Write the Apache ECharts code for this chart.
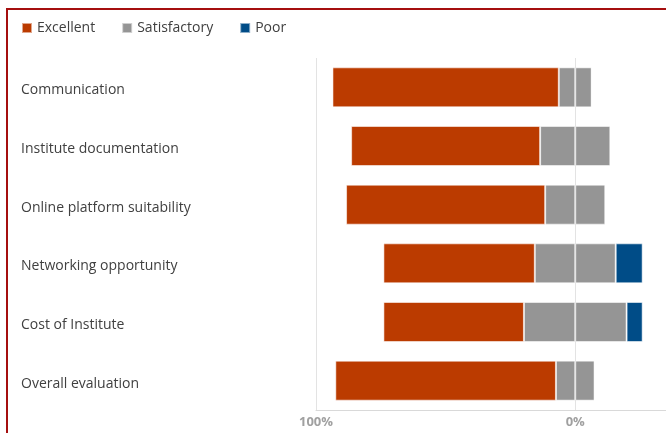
<!DOCTYPE html>
<html>
<head>
<meta charset="utf-8">
<script src="https://cdn.jsdelivr.net/npm/echarts@6/dist/echarts.min.js"></script>
<style>
html,body{margin:0;padding:0;background:#fff;}
#chart{position:absolute;left:0;top:0;width:666px;height:433px;}
#frame{position:absolute;left:6px;top:8px;width:670px;height:440px;border-left:2px solid #a50f0f;border-top:2px solid #a50f0f;pointer-events:none;}
</style>
</head>
<body>
<div id="chart"></div>
<div id="frame"></div>
<script>
const categories = ["Communication","Institute documentation","Online platform suitability","Networking opportunity","Cost of Institute","Overall evaluation"];
const excellent = [87.3, 72.9, 76.8, 58.4, 54.2, 85.1];
const satisfactory = [12.7, 27.1, 23.2, 31.2, 39.6, 14.9];
const poor = [0, 0, 0, 10.4, 6.2, 0];
const tickLabels = {"-100":"100%","0":"0%"};

const colors = {exc:"#BB3B00", sat:"#959595", poor:"#004C87"};
const border = {borderColor:"rgba(255,255,255,0.55)", borderWidth:1};

const chart = echarts.init(document.getElementById('chart'));
const satHalf = satisfactory.map(v => v/2);
chart.setOption({
  animation:false,
  textStyle:{fontFamily:"'Open Sans', 'Noto Sans', sans-serif"},
  legend:{
    left:16, top:16, itemWidth:10, itemHeight:10, itemGap:26,
    icon:'rect',
    textStyle:{fontSize:14, color:'#404040', fontFamily:"'Open Sans', 'Noto Sans', sans-serif"},
    data:['Excellent','Satisfactory','Poor']
  },
  grid:{left:316, top:58, width:351, bottom:23, containLabel:false},
  xAxis:{
    type:'value', min:-100, max:35, interval:100,
    axisLine:{show:true, lineStyle:{color:'#d9d9d9'}},
    axisTick:{show:false},
    splitLine:{show:true, lineStyle:{color:'#e3e3e3', width:1}},
    axisLabel:{
      color:'#a0a0a0', fontSize:13, fontWeight:'bold', margin:6,
      showMaxLabel:false,
      formatter:v => tickLabels[String(v)] || ''
    }
  },
  yAxis:{
    type:'category', data:categories, inverse:true,
    axisLine:{show:false}, axisTick:{show:false},
    axisLabel:{align:'left', verticalAlign:'top', margin:295, fontSize:14, lineHeight:16, color:'#404040', padding:[-5,0,0,0]}
  },
  series:[
    {name:'Satisfactory', type:'bar', stack:'s', data:satHalf.map(v=>-v), barWidth:40, itemStyle:Object.assign({color:colors.sat}, border)},
    {name:'Excellent', type:'bar', stack:'s', data:excellent.map(v=>-v), barWidth:40, itemStyle:Object.assign({color:colors.exc}, border)},
    {name:'Satisfactory', type:'bar', stack:'s', data:satHalf, barWidth:40, itemStyle:Object.assign({color:colors.sat}, border)},
    {name:'Poor', type:'bar', stack:'s', data:poor, barWidth:40, itemStyle:Object.assign({color:colors.poor}, border)}
  ]
});
</script>
</body>
</html>
